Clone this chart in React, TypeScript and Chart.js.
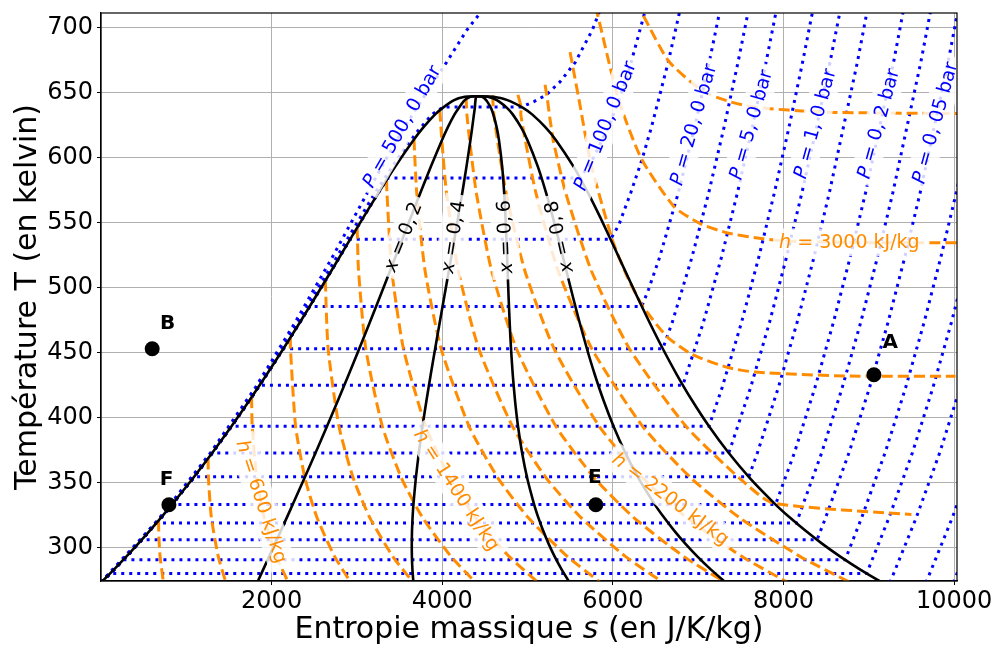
import React, { useEffect, useRef } from "react";
import { Chart, registerables } from "chart.js";

Chart.register(...registerables);

// ---------------- Axis ticks ----------------
const xTicks = [2000, 4000, 6000, 8000, 10000];
const yTicks = [300, 350, 400, 450, 500, 550, 600, 650, 700];

// ---------------- Saturation curve (T in K, s in J/K/kg) ----------------
const satT = [273.16, 283.15, 293.15, 303.15, 313.15, 323.15, 333.15, 353.15, 373.15, 393.15, 413.15, 433.15, 453.15, 473.15, 493.15, 513.15, 533.15, 553.15, 573.15, 593.15, 613.15, 623.15, 633.15, 638.15, 643.15, 645.15, 646.15, 646.85, 647.1];
const satLiquidS = [0, 151.1, 296.5, 436.8, 572.4, 703.8, 831.3, 1075.6, 1307.2, 1527.9, 1739.2, 1942.6, 2139.2, 2330.5, 2517.7, 2702.0, 2884.9, 3068.5, 3255.2, 3449.4, 3660.1, 3778.4, 3916.7, 4005.4, 4112.5, 4177, 4228, 4295, 4407];
const satVaporS = [9155.6, 8899.9, 8666.1, 8452.0, 8255.7, 8074.8, 7908.1, 7611.1, 7354.1, 7129.1, 6929.3, 6749.1, 6584.1, 6430.2, 6284.0, 6142.3, 6001.6, 5857.9, 5705.9, 5537.2, 5335.6, 5211.0, 5053.6, 4947.2, 4801.2, 4715, 4646, 4557, 4407];

// Quality (titre) lines, s at the saturation temperatures above
const quality02S = [1831.1, 1900.9, 1970.4, 2039.8, 2109.1, 2178.0, 2246.7, 2382.7, 2516.6, 2648.1, 2777.2, 2903.9, 3028.2, 3150.4, 3271.0, 3390.1, 3508.2, 3626.4, 3745.3, 3867.0, 3995.2, 4064.9, 4144.1, 4193.8, 4250.2, 4284.6, 4311.6, 4347.4, 4407];
const quality04S = [3662.2, 3650.6, 3644.3, 3642.9, 3645.7, 3652.2, 3662.0, 3689.8, 3726.0, 3768.4, 3815.2, 3865.2, 3917.2, 3970.4, 4024.2, 4078.1, 4131.6, 4184.3, 4235.5, 4284.5, 4330.3, 4351.4, 4371.5, 4382.1, 4388.0, 4392.2, 4395.2, 4399.8, 4407];
const quality06S = [5493.4, 5400.4, 5318.3, 5245.9, 5182.4, 5126.4, 5077.4, 4996.9, 4935.3, 4888.6, 4853.3, 4826.5, 4806.1, 4790.3, 4777.5, 4766.2, 4754.9, 4742.1, 4725.6, 4702.1, 4665.4, 4638.0, 4598.8, 4570.5, 4525.7, 4499.8, 4478.8, 4452.2, 4407];
const quality08S = [7324.5, 7150.1, 6992.2, 6849.0, 6719.0, 6600.6, 6492.7, 6304.0, 6144.7, 6008.9, 5891.3, 5787.8, 5695.1, 5610.3, 5530.7, 5454.2, 5378.3, 5300.0, 5215.8, 5119.6, 5000.5, 4924.5, 4826.2, 4758.8, 4663.5, 4607.4, 4562.4, 4504.6, 4407];

// ---------------- Isobars [T (K), s (J/K/kg)] ----------------
// full curves (supercritical / high pressure)
const isobar500: [number, number][] = [[273.16, 0], [293.15, 290], [323.15, 690], [373.15, 1285], [423.15, 1810], [473.15, 2275], [523.15, 2710], [573.15, 3125], [598.15, 3335], [623.15, 3555], [648.15, 3800], [673.15, 4050], [698.15, 4290], [723.15, 4590]];
const isobar200: [number, number][] = [[273.16, -5], [323.15, 695], [373.15, 1295], [423.15, 1825], [473.15, 2305], [523.15, 2760], [573.15, 3215], [613.15, 3620], [633.15, 3880], [638.9, 4015], [638.9, 4931], [643.15, 5080], [648.15, 5220], [658.15, 5380], [673.15, 5559], [698.15, 5760], [723.15, 5909]];
// from saturation (T_sat, s_liq), (T_sat, s_vap) then superheated vapour
const isobar100: [number, number][] = [[584.15, 3359.6], [584.15, 5615.9], [598.15, 5759.6], [623.15, 5945.9], [648.15, 6093], [673.15, 6214.1], [723.15, 6421.9]];
const isobar50: [number, number][] = [[537.09, 2921.0], [537.09, 5973.7], [548.15, 6070], [573.15, 6211.0], [598.15, 6340], [623.15, 6451.6], [673.15, 6648.3], [723.15, 6821.0]];
const isobar20: [number, number][] = [[485.53, 2446.7], [485.53, 6339.0], [498.15, 6416], [523.15, 6547.5], [573.15, 6768.4], [623.15, 6958.3], [673.15, 7129.2], [723.15, 7286.6]];
const isobar10: [number, number][] = [[453.03, 2138.1], [453.03, 6585.0], [473.15, 6695.6], [523.15, 6926.5], [573.15, 7124.6], [623.15, 7302.9], [673.15, 7467.0], [723.15, 7620.0]];
const isobar5: [number, number][] = [[424.98, 1860.4], [424.98, 6820.7], [473.15, 7061.0], [523.15, 7272.5], [573.15, 7461.4], [623.15, 7634.6], [673.15, 7795.6], [723.15, 7946.5]];
const isobar2: [number, number][] = [[393.36, 1530.2], [393.36, 7127.0], [423.15, 7281.0], [473.15, 7508.1], [523.15, 7710.0], [573.15, 7894.1], [623.15, 8064.4], [673.15, 8223.6], [723.15, 8374]];
const isobar1: [number, number][] = [[372.76, 1302.8], [372.76, 7358.9], [423.15, 7614.8], [473.15, 7835.6], [523.15, 8034.6], [573.15, 8217.2], [623.15, 8387], [673.15, 8545.2], [723.15, 8695]];
const isobar05: [number, number][] = [[354.47, 1091.2], [354.47, 7593.1], [373.15, 7695.3], [423.15, 7940.1], [473.15, 8159.2], [523.15, 8356.8], [573.15, 8538.6], [673.15, 8865.9], [773.15, 9156.6]];
const isobar02: [number, number][] = [[333.21, 832.0], [333.21, 7907.2], [373.15, 8129], [423.15, 8369], [473.15, 8585], [523.15, 8781], [573.15, 8963], [673.15, 9290], [773.15, 9580]];
const isobar01: [number, number][] = [[318.96, 649.2], [318.96, 8148.8], [323.15, 8174.1], [373.15, 8448.9], [423.15, 8689.2], [473.15, 8904.9], [523.15, 9101.0], [573.15, 9282.7], [673.15, 9609.4], [773.15, 9899.8]];
const isobar005: [number, number][] = [[306.02, 476.2], [306.02, 8393.8], [323.15, 8494], [373.15, 8769], [423.15, 9009], [473.15, 9225], [523.15, 9421], [573.15, 9603], [673.15, 9929], [773.15, 10220]];
const isobar002: [number, number][] = [[290.65, 260.7], [290.65, 8722.6], [323.15, 8917], [373.15, 9192], [423.15, 9432], [473.15, 9648], [523.15, 9844], [573.15, 10026], [623.15, 10190]];
const isobar001: [number, number][] = [[280.12, 105.9], [280.12, 8974.9], [323.15, 9237], [373.15, 9512], [423.15, 9752], [473.15, 9968], [523.15, 10164]];
// vapour only (below triple-point pressure)
const isobar0005: [number, number][] = [[273.16, 9248], [323.15, 9557], [373.15, 9832], [423.15, 10072]];
const isobar0002: [number, number][] = [[273.16, 9671], [323.15, 9980], [373.15, 10255]];
const isobar0001: [number, number][] = [[273.16, 9991], [323.15, 10300]];

// ---------------- Isenthalps [T (K), s (J/K/kg)] ----------------
const h200: [number, number][] = [[320.92, 674.5], [308.15, 678.3], [293.15, 692.5], [273.16, 732.2]];
const h400: [number, number][] = [[368.6, 1255.2], [353.15, 1259.6], [323.15, 1293.8], [293.15, 1374.8], [273.16, 1464.3]];
const h600: [number, number][] = [[415.67, 1765.0], [393.15, 1772.6], [353.15, 1825.9], [323.15, 1912.7], [293.15, 2057.0], [273.16, 2196.5]];
const h800: [number, number][] = [[461.48, 2219.4], [453.15, 2220.7], [393.15, 2281.3], [353.15, 2392.3], [323.15, 2531.6], [293.15, 2739.3], [273.16, 2928.7]];
const h1000: [number, number][] = [[505.23, 2629.2], [453.15, 2662.1], [393.15, 2790.0], [353.15, 2958.6], [323.15, 3150.5], [293.15, 3421.5], [273.16, 3660.9]];
const h1200: [number, number][] = [[546.0, 3002.8], [513.15, 3018.7], [453.15, 3103.5], [393.15, 3298.7], [353.15, 3524.9], [323.15, 3769.4], [293.15, 4103.8], [273.16, 4393.0]];
const h1400: [number, number][] = [[582.77, 3347.4], [573.15, 3351.5], [513.15, 3408.4], [453.15, 3544.8], [393.15, 3807.4], [353.15, 4091.3], [323.15, 4388.3], [293.15, 4786.0], [273.16, 5125.2]];
const h1600: [number, number][] = [[613.87, 3668.6], [573.15, 3700.5], [513.15, 3798.2], [453.15, 3986.2], [393.15, 4316.1], [353.15, 4657.6], [323.15, 5007.2], [293.15, 5468.2], [273.16, 5857.4]];
const h1800: [number, number][] = [[635.98, 3972.1], [613.15, 3995.3], [573.15, 4049.4], [513.15, 4187.9], [453.15, 4427.5], [393.15, 4824.8], [353.15, 5223.9], [323.15, 5626.1], [293.15, 6150.5], [273.16, 6589.6]];
const h2000: [number, number][] = [[646.25, 4280], [633.15, 4289.1], [613.15, 4321.4], [573.15, 4398.4], [513.15, 4577.7], [453.15, 4868.9], [393.15, 5333.6], [353.15, 5790.3], [323.15, 6245.0], [293.15, 6832.7], [273.16, 7321.7]];
const h2200: [number, number][] = [[647.8, 4595], [643.15, 4593.4], [633.15, 4605.0], [613.15, 4647.6], [573.15, 4747.3], [513.15, 4967.4], [453.15, 5310.3], [393.15, 5842.3], [353.15, 6356.6], [323.15, 6864.0], [293.15, 7514.9], [273.16, 8053.9]];
const h2400: [number, number][] = [[648.2, 4887], [638.7, 4925], [633.15, 4920.9], [613.15, 4973.8], [573.15, 5096.3], [513.15, 5357.2], [453.15, 5751.6], [393.15, 6351.0], [353.15, 6922.9], [323.15, 7482.9], [293.15, 8197.2], [273.16, 8786.1]];
const h2600: [number, number][] = [[656, 5205], [645, 5232], [630, 5262], [617, 5292], [613.15, 5300.0], [573.15, 5445.2], [513.15, 5746.9], [453.15, 6192.9], [393.15, 6859.7], [353.15, 7489.3], [334.5, 7872], [325.5, 9500]];
const h2800: [number, number][] = [[681, 5498], [670, 5530], [642, 5610], [596, 5740], [538.7, 5984], [523.5, 6070], [507, 6179], [486.4, 6343], [462.2, 6635], [448.6, 6930], [438.5, 7350], [435, 7670], [432, 8727], [431.8, 10017]];
const h3000: [number, number][] = [[716, 5790], [710, 5820], [645, 6064], [599, 6335], [562, 6720], [549, 7030], [542, 7345], [537.5, 7762], [535.7, 8080], [534.5, 9140], [534.4, 10200]];
const h3200: [number, number][] = [[719.7, 6270], [708.6, 6361], [674, 6655], [651, 7054], [643, 7367], [638.5, 7684], [635, 8425], [634, 9490], [633.8, 10300]];

// ---------------- Remarkable points ----------------
const pointNames = ["A", "B", "E", "F"];
const pointS = [9060, 600, 5800, 796];
const pointT = [433, 453, 333, 333];
const pointLabelS = [9250, 780, 5790, 770];
const pointLabelT = [457.5, 472, 353.5, 352];

// ---------------- Contour labels ----------------
const isobarLabelText = ["500, 0", "100, 0", "20, 0", "5, 0", "1, 0", "0, 2", "0, 05"];
const isobarLabelS = [3524, 5907, 6943, 7617, 8369, 9112, 9776];
const isobarLabelT = [623.8, 624.4, 625.2, 625.2, 626, 626, 626.7];
const isobarLabelAngle = [-60, -68, -74, -74, -74.5, -74.5, -74.5];

const enthalpyLabelText = ["600", "1400", "2200", "3000"];
const enthalpyLabelS = [1883, 4170, 6679, 8772];
const enthalpyLabelT = [335.4, 344.4, 337.5, 534.8];
const enthalpyLabelAngle = [72, 57, 37, 0];

const qualityLabelText = ["0,\u20092", "0,\u20094", "0,\u20096", "0,\u20098"];
const qualityLabelS = [3539, 4126, 4736, 5369];
const qualityLabelT = [539, 539, 539, 539];
const qualityLabelAngle = [-68, -81, -92, -103];

// ---------------- Styles ----------------
const FONT = "'DejaVu Sans', 'Liberation Sans', sans-serif";
const BLUE = "#0000ff";
const ORANGE = "#ff8c00";
const LABEL_SIZE = 19;

type Part = { t: string; it?: boolean };

function toXY(pts: [number, number][]) {
  return pts.map(([T, s]) => ({ x: s, y: T }));
}

function withLiquid(pts: [number, number][]) {
  const tSat = pts[0][0];
  const liq: [number, number][] = [];
  for (let i = 0; i < satT.length; i++) if (satT[i] < tSat) liq.push([satT[i], satLiquidS[i]]);
  return liq.concat(pts);
}

function drawLabel(ctx: CanvasRenderingContext2D, x: number, y: number, angleDeg: number, parts: Part[], color: string) {
  ctx.save();
  ctx.translate(x, y);
  ctx.rotate((angleDeg * Math.PI) / 180);
  const fontOf = (p: Part) => `${p.it ? "italic " : ""}${LABEL_SIZE}px ${FONT}`;
  let w = 0;
  const widths = parts.map((p) => {
    ctx.font = fontOf(p);
    const m = ctx.measureText(p.t).width;
    w += m;
    return m;
  });
  const h = LABEL_SIZE * 1.15;
  ctx.fillStyle = "rgba(255,255,255,0.82)";
  ctx.fillRect(-w / 2 - 6, -h / 2 - 3, w + 12, h + 6);
  ctx.fillStyle = color;
  ctx.textBaseline = "middle";
  ctx.textAlign = "left";
  let cx = -w / 2;
  parts.forEach((p, i) => {
    ctx.font = fontOf(p);
    ctx.fillText(p.t, cx, 1);
    cx += widths[i];
  });
  ctx.restore();
}

const overlayPlugin = {
  id: "overlay",
  afterDatasetsDraw(chart: any) {
    const ctx: CanvasRenderingContext2D = chart.ctx;
    const xs = chart.scales.x;
    const ys = chart.scales.y;
    const ca = chart.chartArea;
    ctx.save();
    ctx.beginPath();
    ctx.rect(ca.left, ca.top, ca.right - ca.left, ca.bottom - ca.top);
    ctx.clip();
    isobarLabelText.forEach((t, i) => {
      drawLabel(ctx, xs.getPixelForValue(isobarLabelS[i]), ys.getPixelForValue(isobarLabelT[i]), isobarLabelAngle[i],
        [{ t: "P", it: true }, { t: ` = ${t} bar` }], BLUE);
    });
    enthalpyLabelText.forEach((t, i) => {
      drawLabel(ctx, xs.getPixelForValue(enthalpyLabelS[i]), ys.getPixelForValue(enthalpyLabelT[i]), enthalpyLabelAngle[i],
        [{ t: "h", it: true }, { t: ` = ${t} kJ/kg` }], ORANGE);
    });
    qualityLabelText.forEach((t, i) => {
      drawLabel(ctx, xs.getPixelForValue(qualityLabelS[i]), ys.getPixelForValue(qualityLabelT[i]), qualityLabelAngle[i],
        [{ t: "x", it: true }, { t: ` = ${t}` }], "#000");
    });
    // points
    ctx.fillStyle = "#000";
    pointNames.forEach((n, i) => {
      ctx.beginPath();
      ctx.arc(xs.getPixelForValue(pointS[i]), ys.getPixelForValue(pointT[i]), 7.5, 0, Math.PI * 2);
      ctx.fill();
      ctx.font = `bold 20px ${FONT}`;
      ctx.textAlign = "center";
      ctx.textBaseline = "middle";
      ctx.fillText(n, xs.getPixelForValue(pointLabelS[i]), ys.getPixelForValue(pointLabelT[i]));
    });
    ctx.restore();
  },
  afterDraw(chart: any) {
    const ctx: CanvasRenderingContext2D = chart.ctx;
    const ca = chart.chartArea;
    ctx.save();
    ctx.strokeStyle = "#000";
    ctx.lineWidth = 1.2;
    ctx.strokeRect(ca.left, ca.top, ca.right - ca.left, ca.bottom - ca.top);
    // x title with italic s
    const parts: Part[] = [{ t: "Entropie massique " }, { t: "s", it: true }, { t: " (en J/K/kg)" }];
    const size = 30;
    let w = 0;
    const ws = parts.map((p) => {
      ctx.font = `${p.it ? "italic " : ""}${size}px ${FONT}`;
      const m = ctx.measureText(p.t).width;
      w += m;
      return m;
    });
    ctx.fillStyle = "#000";
    ctx.textBaseline = "alphabetic";
    ctx.textAlign = "left";
    let x = (ca.left + ca.right) / 2 - w / 2;
    parts.forEach((p, i) => {
      ctx.font = `${p.it ? "italic " : ""}${size}px ${FONT}`;
      ctx.fillText(p.t, x, 638);
      x += ws[i];
    });
    // y title
    ctx.translate(36, (ca.top + ca.bottom) / 2);
    ctx.rotate(-Math.PI / 2);
    ctx.font = `${size}px ${FONT}`;
    ctx.textAlign = "center";
    ctx.fillText("Température T (en kelvin)", 0, 0);
    ctx.restore();
  },
};

export default function App() {
  const ref = useRef<HTMLCanvasElement>(null);
  useEffect(() => {
    document.body.style.margin = "0";
    const canvas = ref.current!;
    const line = (data: any[], color: string, width: number, dash: number[], order: number, tension = 0) => ({
      data,
      showLine: true,
      borderColor: color,
      borderWidth: width,
      borderDash: dash,
      pointRadius: 0,
      pointHoverRadius: 0,
      fill: false,
      tension,
      order,
    });
    const datasets: any[] = [];
    // black: dome and quality lines
    const dome = satT.map((T, i) => ({ x: satLiquidS[i], y: T }));
    for (let i = satT.length - 2; i >= 0; i--) dome.push({ x: satVaporS[i], y: satT[i] });
    datasets.push(line(dome, "#000", 2.6, [], 1, 0.2));
    [quality02S, quality04S, quality06S, quality08S].forEach((q) =>
      datasets.push(line(satT.map((T, i) => ({ x: q[i], y: T })), "#000", 2.6, [], 1, 0.2))
    );
    // orange isenthalps
    [h200, h400, h600, h800, h1000, h1200, h1400, h1600, h1800, h2000, h2200, h2400, h2600, h2800, h3000, h3200].forEach((h) =>
      datasets.push(line(toXY(h), ORANGE, 3, [11, 5], 2, 0.2))
    );
    // blue isobars
    [isobar500, isobar200].forEach((p) => datasets.push(line(toXY(p), BLUE, 3, [3, 5], 3)));
    [isobar100, isobar50, isobar20, isobar10, isobar5, isobar2, isobar1, isobar05, isobar02, isobar01, isobar005, isobar002, isobar001].forEach((p) =>
      datasets.push(line(toXY(withLiquid(p)), BLUE, 3, [3, 5], 3))
    );
    [isobar0005, isobar0002, isobar0001].forEach((p) => datasets.push(line(toXY(p), BLUE, 3, [3, 5], 3)));

    const chart = new Chart(canvas, {
      type: "scatter",
      data: { datasets },
      options: {
        animation: false,
        responsive: false,
        devicePixelRatio: 1,
        events: [],
        layout: { padding: { top: 13, right: 41, left: 0, bottom: 0 } },
        plugins: { legend: { display: false }, tooltip: { enabled: false } },
        scales: {
          x: {
            type: "linear",
            min: 0,
            max: 10034,
            afterFit: (s: any) => { s.height = 66; s.paddingLeft = 0; s.paddingRight = 0; },
            afterBuildTicks: (s: any) => { s.ticks = xTicks.map((v) => ({ value: v })); },
            grid: { color: "#b0b0b0", lineWidth: 1, tickColor: "#000", tickLength: 4, tickWidth: 1 },
            border: { display: true, color: "#000", width: 1.2 },
            ticks: { color: "#000", font: { family: FONT, size: 24 }, padding: 2, autoSkip: false, maxRotation: 0, callback: (v: any) => String(v) },
          },
          y: {
            type: "linear",
            min: 274.4,
            max: 711.1,
            afterFit: (s: any) => { s.width = 101; s.paddingTop = 0; s.paddingBottom = 0; },
            afterBuildTicks: (s: any) => { s.ticks = yTicks.map((v) => ({ value: v })); },
            grid: { color: "#b0b0b0", lineWidth: 1, tickColor: "#000", tickLength: 4, tickWidth: 1 },
            border: { display: true, color: "#000", width: 1.2 },
            ticks: { color: "#000", font: { family: FONT, size: 24 }, padding: 4, autoSkip: false, callback: (v: any) => String(v) },
          },
        },
      },
      plugins: [overlayPlugin],
    });
    return () => chart.destroy();
  }, []);
  return (
    <div style={{ width: 998, height: 647, background: "#fff" }}>
      <canvas ref={ref} width={998} height={647} style={{ display: "block" }} />
    </div>
  );
}
